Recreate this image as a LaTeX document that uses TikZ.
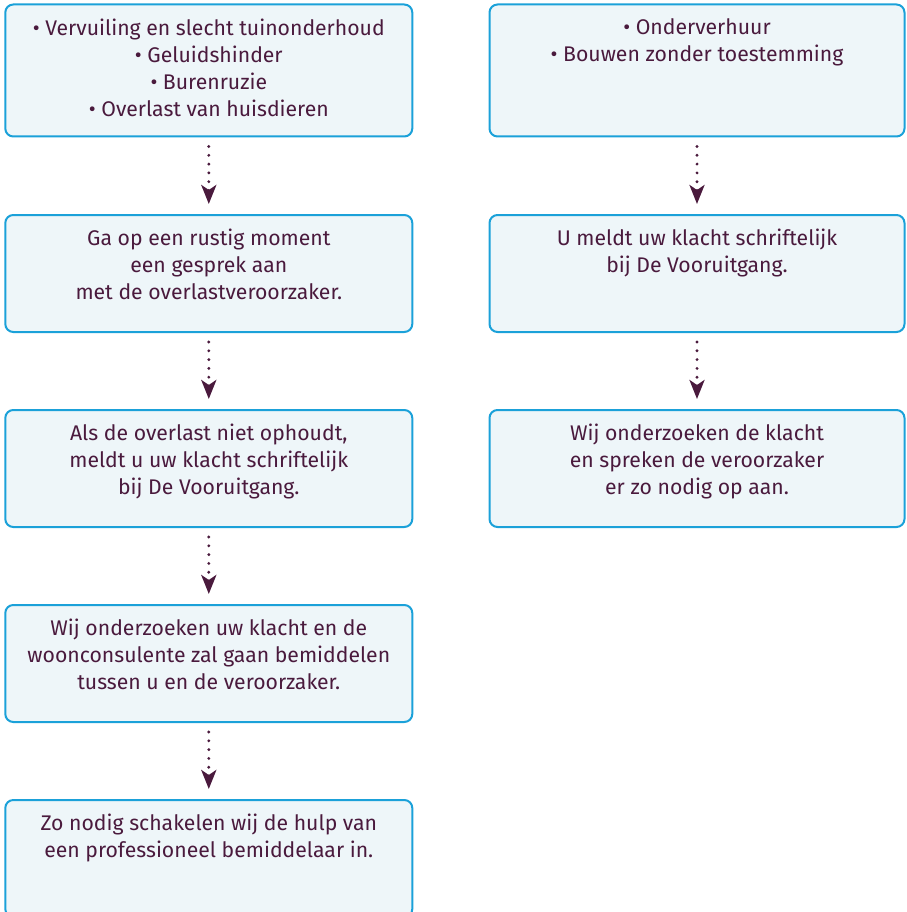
\documentclass[tikz,border=0pt]{standalone}
\usepackage{fontspec}
\setmainfont{Fira Sans}
\usetikzlibrary{arrows.meta,calc}
\definecolor{boxline}{HTML}{1BA1D9}
\definecolor{boxfill}{HTML}{EEF6F9}
\definecolor{ink}{HTML}{4A1A3D}
\begin{document}
\begin{tikzpicture}[x=1pt,y=-1pt,
  box/.style={draw=boxline, fill=boxfill, line width=2pt, rounded corners=8pt,
    minimum height=117pt, anchor=north, inner sep=0pt},
  lbox/.style={box, minimum width=407pt},
  rbox/.style={box, minimum width=415pt},
  txt/.style={anchor=north, align=center, inner sep=0pt, text=ink,
    font=\fontsize{21.2}{27}\selectfont},
  flow/.style={draw=ink, line width=3.2pt, line cap=round,
    dash pattern=on 0pt off 8.8pt, shorten >=12pt, shorten <=9pt,
    -{Stealth[length=19pt, width=15pt, inset=5pt, line cap=butt, sep=-2pt]}}
]
\useasboundingbox (0,0) rectangle (906,912);
% left column
\node[lbox, minimum height=132pt] (l1) at (208.8,3.5) {};
\node[lbox] (l2) at (208.8,214) {};
\node[lbox] (l3) at (208.8,409) {};
\node[lbox] (l4) at (208.8,604) {};
\node[lbox] (l5) at (208.8,799) {};
% right column
\node[rbox, minimum height=132pt] (r1) at (697,3.5) {};
\node[rbox] (r2) at (697,214) {};
\node[rbox] (r3) at (697,409) {};
% texts
\node[txt] (tl1) at ($(l1.north)+(0,15)$) {• Vervuiling en slecht tuinonderhoud\\• Geluidshinder\\• Burenruzie\\• Overlast van huisdieren};
\node[txt] (tl2) at ($(l2.north)+(0,15)$) {Ga op een rustig moment\\een gesprek aan\\met de overlastveroorzaker.};
\node[txt] (tl3) at ($(l3.north)+(0,15)$) {Als de overlast niet ophoudt,\\meldt u uw klacht schriftelijk\\bij De Vooruitgang.};
\node[txt] (tl4) at ($(l4.north)+(0,15)$) {Wij onderzoeken uw klacht en de\\woonconsulente zal gaan bemiddelen\\tussen u en de veroorzaker.};
\node[txt] (tl5) at ($(l5.north)+(0,15)$) {Zo nodig schakelen wij de hulp van\\een professioneel bemiddelaar in.};
\node[txt] (tr1) at ($(r1.north)+(0,15)$) {• Onderverhuur\\• Bouwen zonder toestemming};
\node[txt] (tr2) at ($(r2.north)+(0,15)$) {U meldt uw klacht schriftelijk\\bij De Vooruitgang.};
\node[txt] (tr3) at ($(r3.north)+(0,15)$) {Wij onderzoeken de klacht\\en spreken de veroorzaker\\er zo nodig op aan.};
% arrows
\draw[flow] (l1.south) -- (l2.north);
\draw[flow] (l2.south) -- (l3.north);
\draw[flow] (l3.south) -- (l4.north);
\draw[flow] (l4.south) -- (l5.north);
\draw[flow] (r1.south) -- (r2.north);
\draw[flow] (r2.south) -- (r3.north);
\end{tikzpicture}
\end{document}
